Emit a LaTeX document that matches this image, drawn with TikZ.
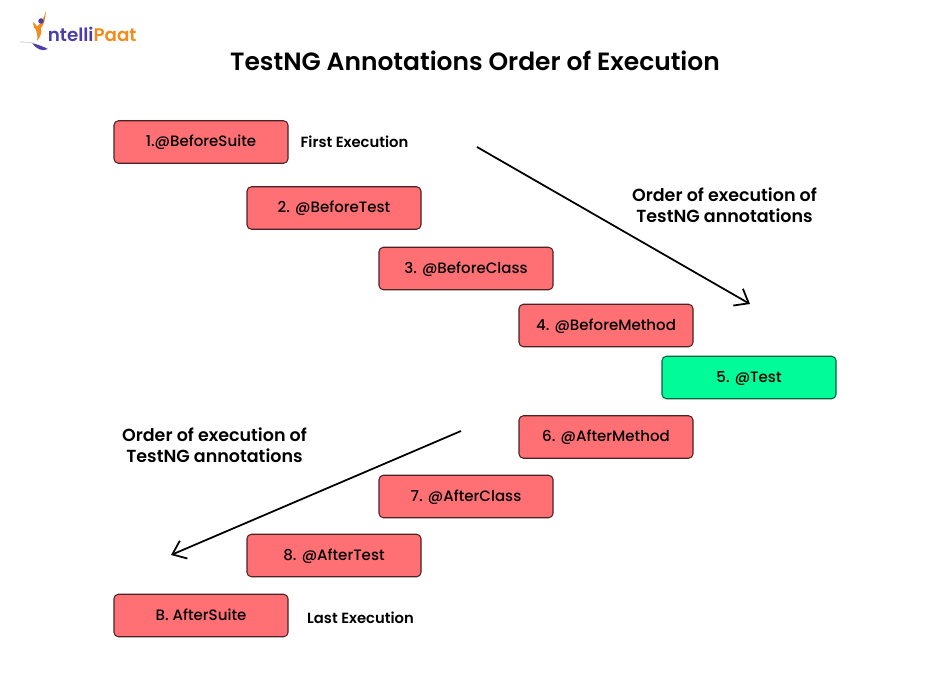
\documentclass[tikz,border=0pt]{standalone}
\usepackage{fontspec}
\setmainfont{Poppins}[BoldFont={Poppins SemiBold}]
\newfontfamily\boxfont{Poppins Medium}
\usepackage{tikz}
\usetikzlibrary{arrows.meta,positioning}
\definecolor{boxred}{HTML}{FF7074}
\definecolor{boxgreen}{HTML}{00FB98}
\definecolor{logoblue}{HTML}{4A3FA8}
\definecolor{logoorange}{HTML}{F28C1E}
\tikzset{
  redbox/.style={draw=black!70!boxred,line width=0.6pt,fill=boxred,rounded corners=2.5pt,
    minimum width=3.48cm,minimum height=0.85cm,inner sep=0pt,text height=6pt,text depth=0.4pt,
    font=\boxfont\fontsize{8.55}{12}\selectfont},
  greenbox/.style={redbox,draw=black!60!boxgreen,fill=boxgreen},
  note/.style={font=\fontsize{8.4}{12}\selectfont\bfseries,inner sep=0pt},
  orderlabel/.style={font=\fontsize{9.95}{11.9}\selectfont\bfseries,align=center,inner sep=0pt},
  orderline/.style={line width=1pt,-{Straight Barb[length=7pt,width=11pt,line width=1pt]}},
}
\begin{document}
\begin{tikzpicture}
  \useasboundingbox (0,0) rectangle (19,13.7);
  \fill[white] (0,0) rectangle (19,13.7);
  % logo
  \fill[logoorange] (0.92,13.48) .. controls (0.9,13.3) and (0.88,13.2) .. (0.82,13.14) .. controls (0.84,13.05) and (0.82,12.98) .. (0.74,12.88) .. controls (0.76,12.98) and (0.74,13.06) .. (0.7,13.14) .. controls (0.76,13.18) and (0.84,13.22) .. (0.92,13.48) -- cycle;
  \fill[logoorange] (0.66,13.26) -- (0.72,13.2) -- (0.76,13.12) -- (0.68,13.14) -- cycle;
  \fill[logoblue] (0.82,13.28) circle (0.055);
  \fill[logoblue] (0.4,12.86) .. controls (0.6,12.87) and (0.8,12.8) .. (0.96,12.72) .. controls (0.85,12.66) and (0.72,12.72) .. (0.64,12.84) .. controls (0.56,12.86) and (0.48,12.86) .. (0.4,12.86) -- cycle;
  \node[inner sep=0pt,anchor=base west] (logotext) at (0.95,12.86)
    {\fontsize{10.4}{12}\selectfont\bfseries\textcolor{logoblue}{ntelli}\textcolor{logoorange}{Paat}};
  % title
  \node[font=\fontsize{14.2}{18}\selectfont\bfseries,inner sep=0pt] (title) at (9.5,12.48) {TestNG Annotations Order of Execution};
  % boxes
  \node[redbox] (bsuite) at (4.02,10.86) {1.@BeforeSuite};
  \node[redbox] (btest) at (6.68,9.54) {2. @BeforeTest};
  \node[redbox] (bclass) at (9.32,8.33) {3. @BeforeClass};
  \node[redbox] (bmethod) at (12.12,7.19) {4. @BeforeMethod};
  \node[greenbox] (test) at (14.98,6.15) {5. @Test};
  \node[redbox] (amethod) at (12.12,4.96) {6. @AfterMethod};
  \node[redbox] (aclass) at (9.32,3.77) {7. @AfterClass};
  \node[redbox] (atest) at (6.68,2.59) {8. @AfterTest};
  \node[redbox] (asuite) at (4.02,1.39) {B. AfterSuite};
  % side notes
  \node[note] (first) at (7.09,10.87) {First Execution};
  \node[note] (last) at (7.21,1.35) {Last Execution};
  \node[orderlabel] (order1) at (14.49,9.59) {Order of execution of\\TestNG annotations};
  \node[orderlabel] (order2) at (4.29,4.8) {Order of execution of\\TestNG annotations};
  % arrows
  \coordinate (s1) at (9.54,10.76);
  \coordinate (e1) at (15,7.62);
  \coordinate (s2) at (9.22,5.08);
  \coordinate (e2) at (3.42,2.6);
  \draw[orderline] (s1) -- (e1);
  \draw[orderline] (s2) -- (e2);
\end{tikzpicture}
\end{document}
